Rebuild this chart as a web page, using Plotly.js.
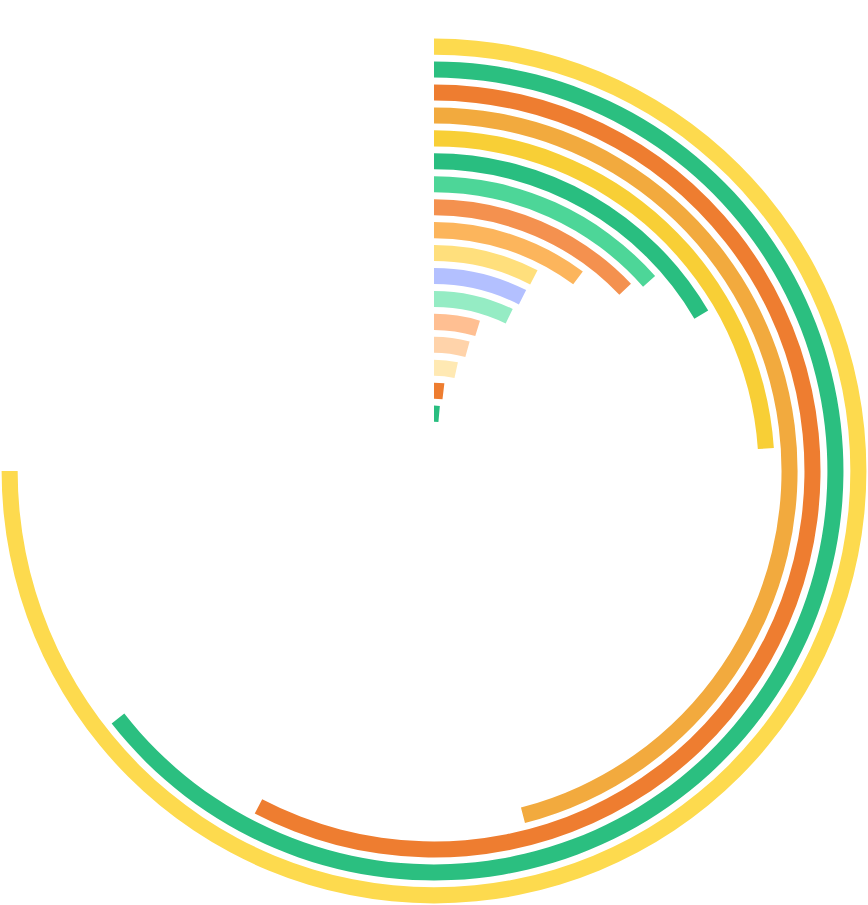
<!DOCTYPE html>
<html>
<head>
<meta charset="utf-8">
<script src="https://cdn.plot.ly/plotly-3.0.1.min.js"></script>
<style>html,body{margin:0;padding:0;background:#fff;}#chart{width:868px;height:905px;}</style>
</head>
<body>
<div id="chart"></div>
<script>
// Ring values (outermost first), as percent of full scale (100 = 270°)
var categories = ["R1","R2","R3","R4","R5","R6","R7","R8","R9","R10","R11","R12","R13","R14","R15","R16","R17"];
var values = [100, 85.9, 76.9, 61.3, 31.9, 22.1, 18.0, 17.2, 13.6, 10.1, 10.0, 9.6, 6.3, 5.7, 4.6, 2.5, 1.9];
var colors = ["#FDDA4E","#2BBF80","#EE7D30","#F2AA3E","#F8CF36","#29BE80","#4DD698","#F4914F","#FCB55C","#FFDF7C","#B3C0FF","#95ECC4","#FFBF92","#FFD3AA","#FFE9B3","#EE7D30","#29BE80"];

var degPerUnit = 2.7;   // angular scale: 100 -> 270 degrees
var thickness = 0.7;    // radial thickness of a ring (in ring units)
var n = categories.length;

var thetaArr = [], widthArr = [], baseArr = [], rArr = [];
for (var i = 0; i < n; i++) {
  var ang = values[i] * degPerUnit;
  thetaArr.push(ang / 2);
  widthArr.push(ang);
  var center = (n - i) + 1.5;
  baseArr.push(center - thickness / 2);
  rArr.push(thickness);
}

var trace = {
  type: "barpolar",
  r: rArr,
  base: baseArr,
  theta: thetaArr,
  width: widthArr,
  text: categories,
  marker: {color: colors, line: {width: 0}},
  hoverinfo: "none"
};

var layout = {
  width: 868, height: 905,
  margin: {l: 0, r: 0, t: 37, b: 0, pad: 0},
  paper_bgcolor: "#fff",
  showlegend: false,
  polar: {
    bgcolor: "#fff",
    domain: {x: [0, 1], y: [0, 1]},
    radialaxis: {visible: false, range: [0, 18.92]},
    angularaxis: {visible: false, direction: "clockwise", rotation: 90}
  }
};

Plotly.newPlot("chart", [trace], layout, {displayModeBar: false, staticPlot: true});
</script>
</body>
</html>
